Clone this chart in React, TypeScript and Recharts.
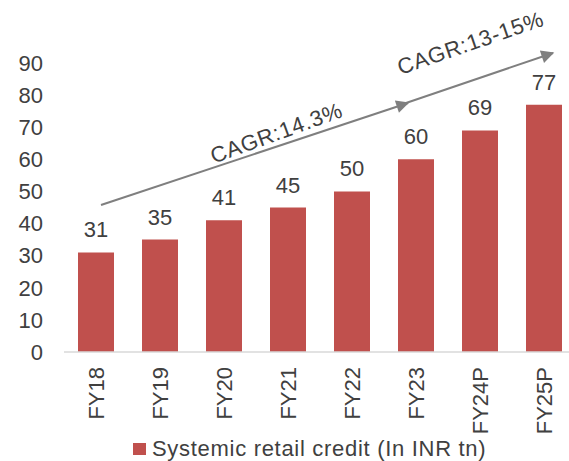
import React from "react";
import { BarChart, Bar, XAxis, YAxis, Legend, LabelList } from "recharts";

const years = ["FY18", "FY19", "FY20", "FY21", "FY22", "FY23", "FY24P", "FY25P"];
const retailCredit = [31, 35, 41, 45, 50, 60, 69, 77];
const yTicks = [0, 10, 20, 30, 40, 50, 60, 70, 80, 90];
const seriesName = "Systemic retail credit (In INR tn)";
const cagrLabels = ["CAGR:14.3%", "CAGR:13-15%"];

const data = years.map((year, i) => ({ year, value: retailCredit[i] }));

const FONT = '"Liberation Sans", Arial, sans-serif';
const TEXT = "#404040";
const RED = "#C0504D";
const ARROW = "#7F7F7F";

function XTick(props: any) {
  const { x, y, payload } = props;
  return (
    <text
      x={x}
      y={y}
      transform={`rotate(-90 ${x} ${y})`}
      textAnchor="end"
      dy="0.35em"
      fontSize={22}
      fill={TEXT}
      fontFamily={FONT}
    >
      {payload.value}
    </text>
  );
}

function LegendBox() {
  return (
    <div style={{ display: "flex", alignItems: "center", paddingLeft: 133, height: 24 }}>
      <span style={{ width: 13, height: 12, background: RED, marginRight: 6, display: "inline-block" }} />
      <span style={{ fontSize: 22, color: TEXT, fontFamily: FONT, letterSpacing: 0.7, whiteSpace: "nowrap" }}>
        {seriesName}
      </span>
    </div>
  );
}

// growth arrows drawn on top of the chart
function CagrArrows() {
  return (
    <svg width={569} height={461} style={{ position: "absolute", left: 0, top: 0, pointerEvents: "none" }}>
      <defs>
        <marker id="head" viewBox="0 0 10 10" refX="9" refY="5" markerWidth="7" markerHeight="6" orient="auto" markerUnits="userSpaceOnUse">
          <path d="M0,0 L10,5 L0,10 z" fill={ARROW} />
        </marker>
        <marker id="head2" viewBox="0 0 10 10" refX="9" refY="5" markerWidth="16" markerHeight="13" orient="auto" markerUnits="userSpaceOnUse">
          <path d="M0,0 L10,5 L0,10 z" fill={ARROW} />
        </marker>
      </defs>
      <line x1={101} y1={205} x2={408} y2={103} stroke={ARROW} strokeWidth={2} markerEnd="url(#head2)" />
      <line x1={406} y1={103} x2={553} y2={53} stroke={ARROW} strokeWidth={2} markerEnd="url(#head2)" />
      <text x={279} y={140} transform="rotate(-20 279 140)" textAnchor="middle" fontSize={22} fill={TEXT} fontFamily={FONT} letterSpacing={0.7}>
        {cagrLabels[0]}
      </text>
      <text x={473} y={50} transform="rotate(-19 473 50)" textAnchor="middle" fontSize={22} fill={TEXT} fontFamily={FONT} letterSpacing={0.7}>
        {cagrLabels[1]}
      </text>
    </svg>
  );
}

export default function App() {
  return (
    <div style={{ position: "absolute", left: 0, top: 0, width: 569, height: 461, overflow: "hidden", background: "#fff", fontFamily: FONT }}>
      <BarChart width={576} height={461} data={data} margin={{ top: 63, right: 0, left: 0, bottom: 0 }}>
        <XAxis
          dataKey="year"
          interval={0}
          height={85}
          tickLine={false}
          tickSize={0}
          tickMargin={15}
          axisLine={{ stroke: "#D9D9D9", strokeWidth: 1.5 }}
          tick={<XTick />}
        />
        <YAxis
          width={64}
          domain={[0, 90]}
          ticks={yTicks}
          axisLine={false}
          tickLine={false}
          tickSize={0}
          tickMargin={21}
          tick={{ fontSize: 22, fill: TEXT, fontFamily: FONT }}
        />
        <Legend verticalAlign="bottom" height={24} wrapperStyle={{ left: 0, width: 576 }} content={<LegendBox />} />
        <Bar dataKey="value" name={seriesName} fill={RED} barSize={36} isAnimationActive={false}>
          <LabelList dataKey="value" position="top" offset={15} fontSize={22} fill={TEXT} fontFamily={FONT} />
        </Bar>
      </BarChart>
      <CagrArrows />
    </div>
  );
}
